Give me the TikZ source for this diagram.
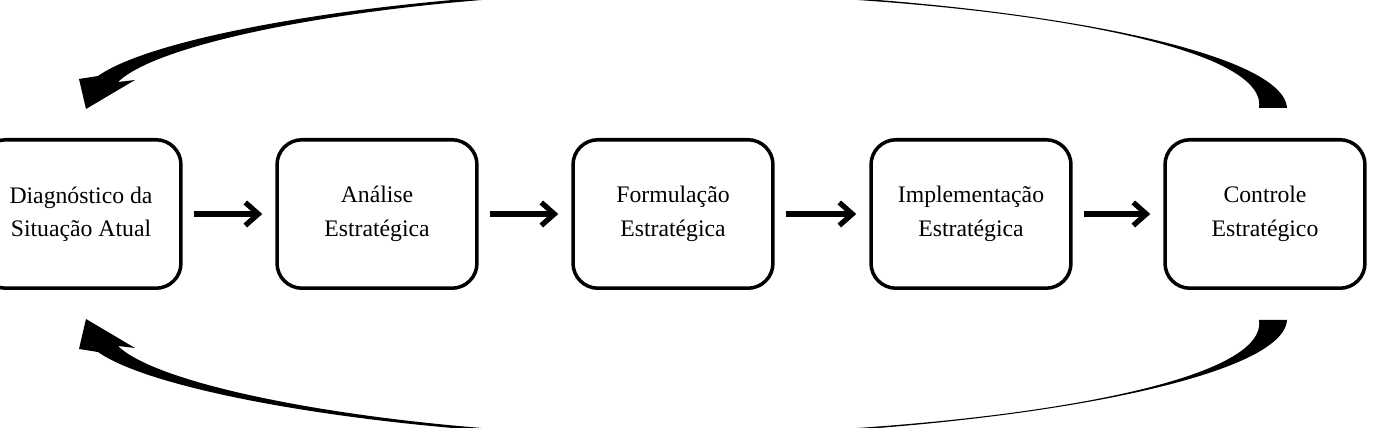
\documentclass[tikz,border=0pt]{standalone}
\usepackage{fontspec}
\setmainfont{Liberation Serif}
\usetikzlibrary{arrows.meta}

\begin{document}
\begin{tikzpicture}[
  x=0.02cm, y=0.02cm,
  stage/.style={draw, rectangle, rounded corners=0.5cm, line width=2pt,
                minimum width=4cm, minimum height=2.97cm, align=center,
                font=\fontsize{13.5}{19}\selectfont},
  flow/.style={line width=3pt, -{Straight Barb[length=0.26cm,width=0.46cm]},
               shorten <=0.22cm, shorten >=0.26cm},
  loop/.style={fill=black}
]
\clip (0,-214) rectangle (1377,214);

% Stages
\node[stage] (diag) at (81,0) {Diagnóstico da\\Situação Atual};
\node[stage] (anal) at (377,0) {Análise\\Estratégica};
\node[stage] (form) at (673,0) {Formulação\\Estratégica};
\node[stage] (impl) at (971,0) {Implementação\\Estratégica};
\node[stage] (ctrl) at (1265,0) {Controle\\Estratégico};

% Arrows
\draw[flow] (diag) -- (anal);
\draw[flow] (anal) -- (form);
\draw[flow] (form) -- (impl);
\draw[flow] (impl) -- (ctrl);

% Feedback loops (top, then mirrored below)
\foreach \s in {1,-1}{
  \begin{scope}[yscale=\s]
    \fill[loop] (1287,106) .. controls (1283,172) and (950,223.5) .. (650,223)
      .. controls (420,223) and (160,182) .. (98,138)
      -- (79,135) -- (86,105) -- (135,134) -- (118,132)
      .. controls (165,178) and (420,221) .. (650,221)
      .. controls (950,221) and (1270,176) .. (1259,106) -- cycle;
  \end{scope}
}

\end{tikzpicture}
\end{document}
